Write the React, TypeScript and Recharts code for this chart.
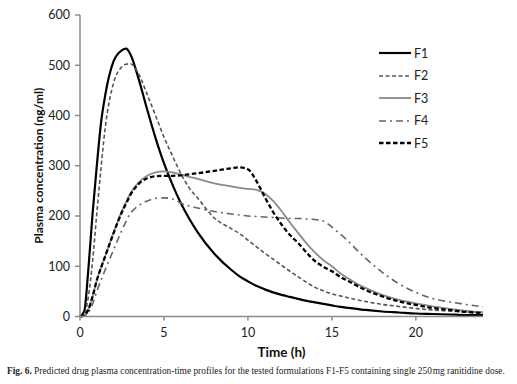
import React from 'react';
import { LineChart, Line, XAxis, YAxis, Legend, Label } from 'recharts';

const times = [0, 0.25, 0.5, 0.75, 1, 1.25, 1.5, 2, 2.5, 2.75, 3, 3.5, 4, 4.5, 5, 5.5, 6, 6.5, 7, 8, 9, 9.5, 10, 10.5, 11, 11.5, 12, 12.5, 13, 13.5, 14, 14.5, 15, 15.5, 16, 16.5, 17, 18, 19, 20, 21, 22, 23, 24];
const f1 = [0, 10, 95, 205, 300, 385, 440, 508, 530, 533, 522, 472, 412, 355, 305, 263, 226, 195, 168, 125, 93, 80, 70, 61, 54, 48, 43, 39, 35, 31, 28, 25, 22, 19, 17, 15, 13, 10, 8, 6, 5, 4, 3, 3];
const f2 = [0, 3, 40, 110, 205, 295, 375, 465, 497, 502, 503, 482, 442, 400, 357, 320, 285, 256, 236, 196, 175, 165, 152, 139, 126, 114, 102, 90, 79, 68, 58, 51, 45, 41, 37, 33, 30, 24, 20, 16, 13, 11, 9, 8];
const f3 = [0, 2, 14, 40, 72, 97, 120, 167, 210, 228, 245, 267, 280, 287, 289, 287, 283, 278, 274, 265, 259, 256, 254, 252, 245, 230, 210, 187, 166, 145, 127, 112, 100, 86, 75, 65, 57, 43, 33, 26, 20, 15, 11, 8];
const f4 = [0, 1, 8, 25, 50, 72, 93, 133, 172, 190, 205, 221, 230, 235, 236, 234, 226, 220, 216, 209, 204, 202, 200, 199, 198, 197, 196, 195, 195, 194, 193, 190, 178, 164, 149, 132, 116, 88, 65, 48, 36, 29, 24, 19];
const f5 = [0, 2, 14, 40, 72, 97, 120, 166, 208, 225, 242, 264, 275, 279, 280, 280, 281, 283, 285, 290, 295, 297, 293, 270, 238, 208, 183, 162, 146, 127, 110, 99, 90, 79, 70, 61, 53, 40, 30, 23, 17, 13, 9, 7];

const seriesNames = ['F1', 'F2', 'F3', 'F4', 'F5'];
const xTicks = [0, 5, 10, 15, 20];
const yTicks = [0, 100, 200, 300, 400, 500, 600];

const data = times.map((t, i) => ({ t, F1: f1[i], F2: f2[i], F3: f3[i], F4: f4[i], F5: f5[i] }));

const styles: Record<string, { stroke: string; width: number; dash?: string }> = {
  F1: { stroke: '#000000', width: 2.2 },
  F2: { stroke: '#555555', width: 1.6, dash: '4 2.5' },
  F3: { stroke: '#8a8a8a', width: 1.8 },
  F4: { stroke: '#666666', width: 1.6, dash: '7 4 2 4' },
  F5: { stroke: '#000000', width: 2.3, dash: '4.5 2.5' },
};

const FONT = "Lato, 'Open Sans', sans-serif";

const LegendContent = () => (
  <div style={{ fontFamily: FONT, fontSize: 12.5, color: '#222' }}>
    {seriesNames.map((n) => {
      const s = styles[n];
      return (
        <div key={n} style={{ display: 'flex', alignItems: 'center', height: 22.5 }}>
          <svg width={34} height={10}>
            <line x1={0} y1={5} x2={32} y2={5} stroke={s.stroke} strokeWidth={s.width} strokeDasharray={s.dash} />
          </svg>
          <span style={{ marginLeft: 1 }}>{n}</span>
        </div>
      );
    })}
  </div>
);

export default function App() {
  return (
    <div style={{ position: 'absolute', left: 0, top: 0, width: 517, height: 384, background: '#fff' }}>
      <LineChart width={517} height={384} data={data} margin={{ top: 15, right: 34, left: 0, bottom: 0 }}>
        <XAxis
          dataKey="t"
          type="number"
          domain={[0, 24]}
          ticks={xTicks}
          height={67.5}
          tickSize={4}
          tickMargin={8}
          stroke="#8c8c8c"
          strokeWidth={1.5}
          tick={{ fill: '#222', fontSize: 12.5, fontFamily: FONT }}
        >
          <Label
            content={(props: any) => {
              const vb = props.viewBox || {};
              return (
                <text x={vb.x + vb.width / 2} y={vb.y + 40} textAnchor="middle" fontFamily={FONT} fontWeight="bold" fontSize={13.5} fill="#111">
                  Time (h)
                </text>
              );
            }}
          />
        </XAxis>
        <YAxis
          type="number"
          domain={[0, 600]}
          ticks={yTicks}
          width={80}
          tickSize={5}
          tickMargin={5}
          stroke="#8c8c8c"
          strokeWidth={1.5}
          tick={{ fill: '#222', fontSize: 12.5, fontFamily: FONT }}
        >
          <Label
            content={(props: any) => {
              const vb = props.viewBox || {};
              const cx = vb.x + 43;
              const cy = vb.y + vb.height / 2;
              return (
                <text x={cx} y={cy} transform={`rotate(-90 ${cx} ${cy})`} textAnchor="middle" fontFamily={FONT} fontWeight="bold" fontSize={12} fill="#111">
                  Plasma concentration (ng/ml)
                </text>
              );
            }}
          />
        </YAxis>
        <Legend
          layout="vertical"
          verticalAlign="middle"
          align="center"
          content={<LegendContent />}
          wrapperStyle={{ position: 'absolute', left: 379, top: 42, width: 80 }}
        />
        {seriesNames.map((n) => (
          <Line
            key={n}
            dataKey={n}
            type="monotone"
            stroke={styles[n].stroke}
            strokeWidth={styles[n].width}
            strokeDasharray={styles[n].dash}
            dot={false}
            activeDot={false}
            isAnimationActive={false}
          />
        ))}
      </LineChart>
      <div
        style={{
          position: 'absolute',
          left: 7,
          top: 366,
          width: 510,
          fontFamily: "'Liberation Serif', 'Times New Roman', serif",
          fontSize: 9.4,
          color: '#222',
          whiteSpace: 'nowrap',
        }}
      >
        <b>Fig. 6.</b> Predicted drug plasma concentration-time profiles for the tested formulations F1-F5 containing single 250&#8202;mg ranitidine dose.
      </div>
    </div>
  );
}
